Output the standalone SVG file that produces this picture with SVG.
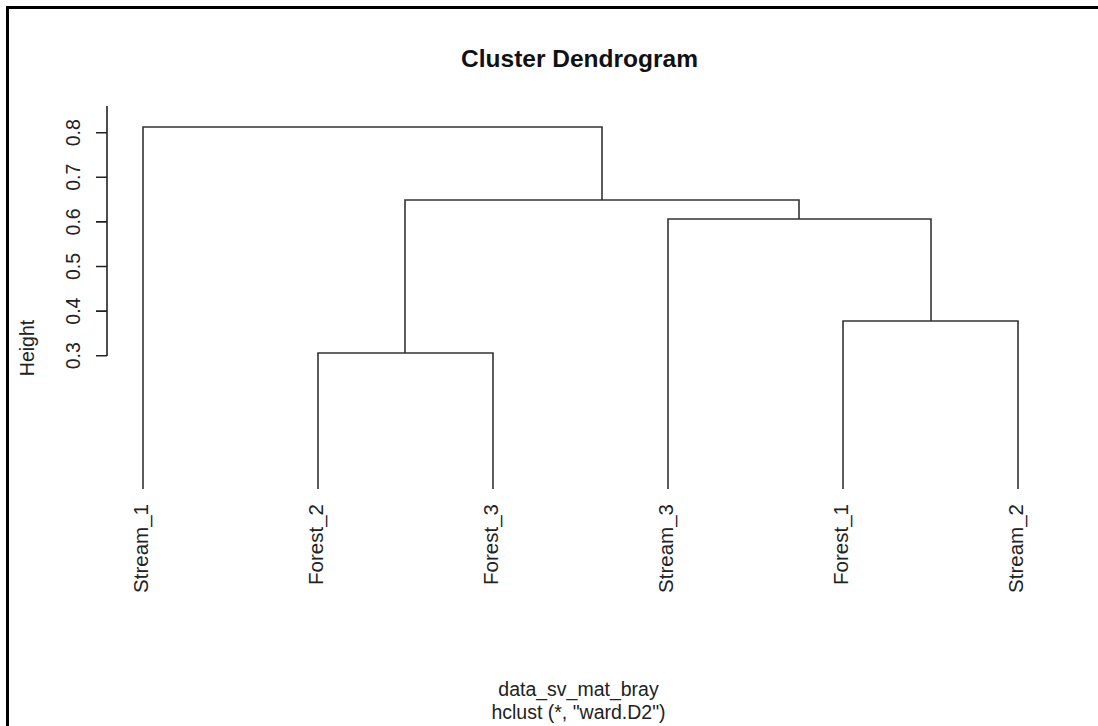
<svg xmlns="http://www.w3.org/2000/svg" width="1098" height="726" viewBox="0 0 1098 726">
<style>
.t{font-family:"Liberation Sans",Arial,sans-serif;font-size:19.5px;fill:#222}
.lf{font-family:"Liberation Sans",Arial,sans-serif;font-size:20.5px;fill:#222}
.title{font-family:"Liberation Sans",Arial,sans-serif;font-size:24.5px;font-weight:bold;fill:#111}
.ln{fill:none;stroke:#333;stroke-width:1.6}
.ax{fill:none;stroke:#222;stroke-width:1.6}
</style>
<rect x="0" y="0" width="1098" height="726" fill="#fff"/>
<path d="M7.5,726 V7.5 H1098" fill="none" stroke="#000" stroke-width="3"/>
<text class="title" x="579.5" y="67" text-anchor="middle">Cluster Dendrogram</text>
<g id="axis">
<path class="ax" d="M107,106 V356 M96,132.7 H107 M96,177.3 H107 M96,221.9 H107 M96,266.5 H107 M96,311.1 H107 M96,355.7 H107"/>
<text class="t" transform="translate(80,132.7) rotate(-90)" text-anchor="middle">0.8</text>
<text class="t" transform="translate(80,177.3) rotate(-90)" text-anchor="middle">0.7</text>
<text class="t" transform="translate(80,221.9) rotate(-90)" text-anchor="middle">0.6</text>
<text class="t" transform="translate(80,266.5) rotate(-90)" text-anchor="middle">0.5</text>
<text class="t" transform="translate(80,311.1) rotate(-90)" text-anchor="middle">0.4</text>
<text class="t" transform="translate(80,355.7) rotate(-90)" text-anchor="middle">0.3</text>
<text class="t" transform="translate(34,348) rotate(-90)" text-anchor="middle">Height</text>
</g>
<g id="connectors">
<path class="ln" d="M143,489 V127 H602 V200"/>
<path class="ln" d="M405,353 V200 H799 V219"/>
<path class="ln" d="M318,489 V353 H493 V489"/>
<path class="ln" d="M668,489 V219 H931 V321"/>
<path class="ln" d="M843,489 V321 H1018 V489"/>
</g>
<g id="leaf-stream1"><text class="lf" transform="translate(147.5,504) rotate(-90)" text-anchor="end">Stream_1</text></g>
<g id="leaf-forest2"><text class="lf" transform="translate(322.5,504) rotate(-90)" text-anchor="end">Forest_2</text></g>
<g id="leaf-forest3"><text class="lf" transform="translate(497.5,504) rotate(-90)" text-anchor="end">Forest_3</text></g>
<g id="leaf-stream3"><text class="lf" transform="translate(672.5,504) rotate(-90)" text-anchor="end">Stream_3</text></g>
<g id="leaf-forest1"><text class="lf" transform="translate(847.5,504) rotate(-90)" text-anchor="end">Forest_1</text></g>
<g id="leaf-stream2"><text class="lf" transform="translate(1022.5,504) rotate(-90)" text-anchor="end">Stream_2</text></g>
<text class="t" x="578.5" y="696" text-anchor="middle">data_sv_mat_bray</text>
<text class="t" x="578.5" y="718.5" text-anchor="middle">hclust (*, "ward.D2")</text>
</svg>
